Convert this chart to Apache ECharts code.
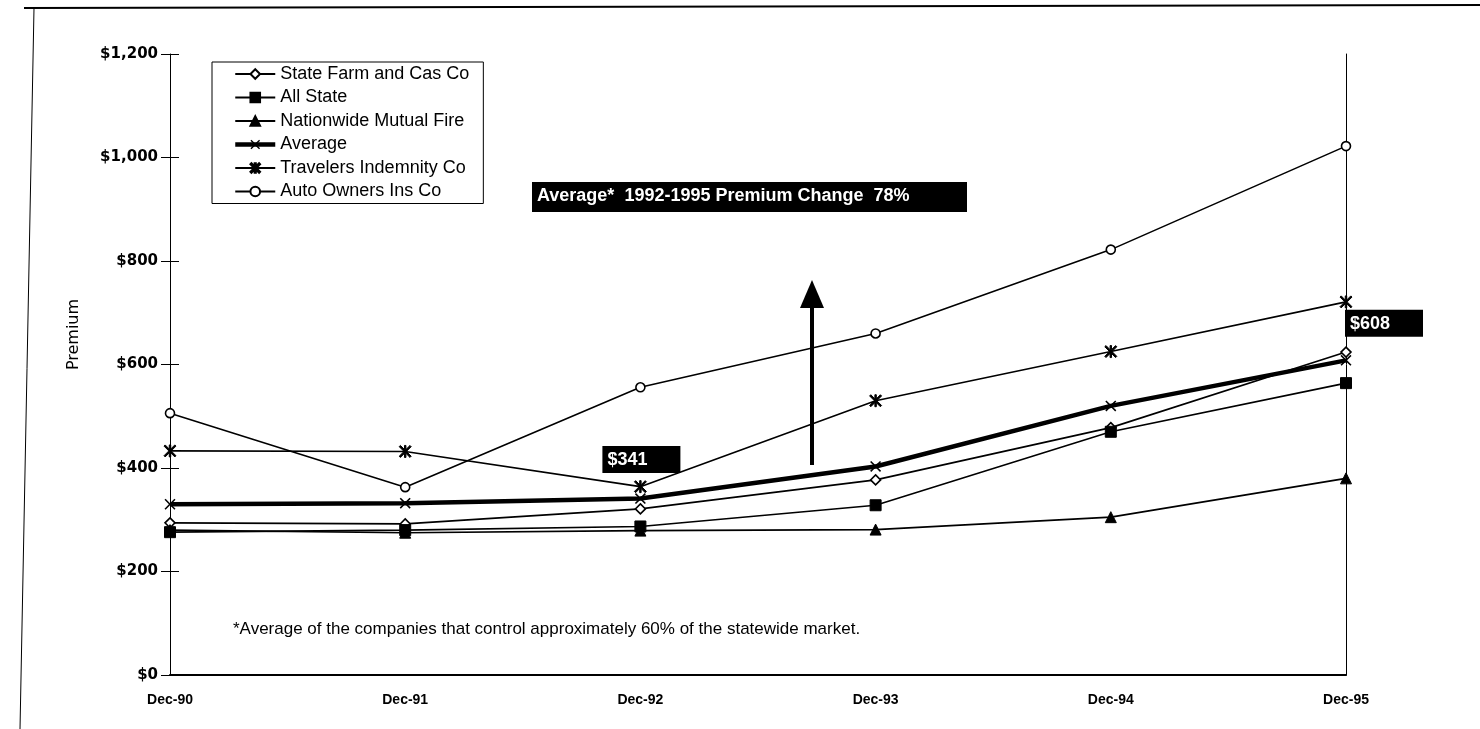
<!DOCTYPE html>
<html>
<head>
<meta charset="utf-8">
<script src="https://cdn.jsdelivr.net/npm/echarts@6/dist/echarts.min.js"></script>
<style>
  html, body { margin: 0; padding: 0; background: #fff; }
  #chart { width: 1480px; height: 729px; }
</style>
</head>
<body>
<div id="chart"></div>
<script>
// categories and series values
const categories = ['Dec-90', 'Dec-91', 'Dec-92', 'Dec-93', 'Dec-94', 'Dec-95']
const stateFarm = [294, 292, 321, 377, 478, 624]
const allState = [276, 280, 287, 328, 470, 564]
const nationwide = [280, 275, 279, 281, 305, 380]
const average = [330, 332, 341, 403, 520, 608]
const travelers = [433, 432, 364, 530, 625, 721]
const autoOwners = [506, 363, 556, 660, 822, 1022]
const yTicks = [0, 200, 400, 600, 800, 1000, 1200]

// marker shapes
const xMark = 'path://M0,1L1,0L5,4L9,0L10,1L6,5L10,9L9,10L5,6L1,10L0,9L4,5Z'
const starMark = 'path://M0,1L1,0L4.4,3.4L4.4,0L5.6,0L5.6,3.4L9,0L10,1L6,5L10,9L9,10L5.6,6.6L5.6,10L4.4,10L4.4,6.6L1,10L0,9L4,5Z'

const chart = echarts.init(document.getElementById('chart'))

const money = v => '$' + v.toLocaleString('en-US')

const boxLabel = (text, offset) => ({
  show: true,
  position: 'top',
  offset: offset,
  formatter: text,
  color: '#fff',
  backgroundColor: '#000',
  fontFamily: 'Liberation Sans Narrow, Liberation Sans, Arial',
  fontWeight: 'bold',
  fontSize: 18,
  width: 68,
  align: 'left',
  padding: [5, 5, 4, 5]
})

const line = (name, data, symbol, opts) => Object.assign({
  name: name,
  type: 'line',
  data: data,
  symbol: symbol,
  symbolSize: 9,
  lineStyle: {color: '#000', width: 1.6},
  itemStyle: {color: '#000', borderColor: '#000', borderWidth: 1},
  z: 3
}, opts || {})

chart.setOption({
  animation: false,
  textStyle: {fontFamily: 'Liberation Sans, Arial, sans-serif', color: '#000'},
  grid: {left: 170, right: 134, top: 54, bottom: 54},
  legend: {
    orient: 'vertical',
    left: 212,
    top: 62,
    borderColor: '#000',
    borderWidth: 1,
    padding: [2, 14, 2, 21],
    itemWidth: 40,
    itemHeight: 12,
    itemGap: 3.5,
    textStyle: {fontSize: 18, lineHeight: 20, color: '#000'},
    data: [
      'State Farm and Cas Co',
      'All State',
      'Nationwide Mutual Fire',
      {name: 'Average', lineStyle: {width: 4.5}},
      'Travelers Indemnity Co',
      'Auto Owners Ins Co'
    ]
  },
  xAxis: {
    type: 'category',
    data: categories,
    boundaryGap: false,
    axisLine: {lineStyle: {color: '#000', width: 2}},
    axisTick: {show: false},
    axisLabel: {
      margin: 18,
      fontFamily: 'Liberation Sans Narrow, Liberation Sans, Arial',
      fontWeight: 'bold',
      fontSize: 14,
      color: '#000'
    }
  },
  yAxis: [{
    type: 'value',
    min: 0,
    max: yTicks[yTicks.length - 1],
    interval: yTicks[1] - yTicks[0],
    name: 'Premium',
    nameLocation: 'middle',
    nameGap: 88,
    nameTextStyle: {fontSize: 16, fontFamily: 'DejaVu Sans, Liberation Sans', color: '#000', padding: [0, 0, 0, 60]},
    axisLine: {show: true, lineStyle: {color: '#000', width: 1}},
    axisTick: {show: true, length: 9, lineStyle: {color: '#000'}},
    axisLabel: {
      margin: 12,
      fontFamily: 'DejaVu Sans, Liberation Sans',
      fontWeight: 'bold',
      fontSize: 15,
      color: '#000',
      formatter: money
    },
    splitLine: {show: false}
  }, {
    // inner half of the crossing ticks
    type: 'value',
    position: 'left',
    min: 0,
    max: yTicks[yTicks.length - 1],
    interval: yTicks[1] - yTicks[0],
    axisLine: {show: false},
    axisTick: {show: true, inside: true, length: 9, lineStyle: {color: '#000'}},
    axisLabel: {show: false},
    splitLine: {show: false}
  }, {
    // right frame line
    type: 'value',
    position: 'right',
    min: 0,
    max: yTicks[yTicks.length - 1],
    axisLine: {show: true, lineStyle: {color: '#000', width: 1}},
    axisTick: {show: false},
    axisLabel: {show: false},
    splitLine: {show: false}
  }],
  series: [
    line('State Farm and Cas Co', stateFarm, 'diamond', {
      symbolSize: 10,
      itemStyle: {color: '#fff', borderColor: '#000', borderWidth: 1.6}
    }),
    line('All State', allState, 'rect', {symbolSize: 11}),
    line('Nationwide Mutual Fire', nationwide, 'triangle', {symbolSize: 11}),
    line('Average', average.map((v, i) => {
      if (i === 2) return {value: v, label: boxLabel(money(v), [-38, -15])}
      if (i === 5) return {value: v, label: boxLabel(money(v), [-1, -13])}
      return v
    }), xMark, {
      symbolSize: 11,
      lineStyle: {color: '#000', width: 4.5},
      itemStyle: {color: '#000'},
      z: 4
    }),
    line('Travelers Indemnity Co', travelers, starMark, {symbolSize: 12}),
    line('Auto Owners Ins Co', autoOwners, 'circle', {
      symbolSize: 9,
      itemStyle: {color: '#fff', borderColor: '#000', borderWidth: 1.6}
    })
  ],
  graphic: [
    // scanned page frame
    {type: 'line', shape: {x1: 24, y1: 8, x2: 1480, y2: 5}, style: {stroke: '#000', lineWidth: 2}},
    {type: 'line', shape: {x1: 34, y1: 8, x2: 20, y2: 729}, style: {stroke: '#000', lineWidth: 1}},
    // headline box
    {
      type: 'rect',
      shape: {x: 532, y: 182, width: 435, height: 30},
      style: {fill: '#000'}
    },
    {
      type: 'text',
      x: 537, y: 187,
      style: {
        text: 'Average*  1992-1995 Premium Change  78%',
        fill: '#fff',
        font: 'bold 18px "Liberation Sans Narrow", "Liberation Sans", Arial'
      }
    },
    // arrow
    {type: 'line', shape: {x1: 812, y1: 465, x2: 812, y2: 305}, style: {stroke: '#000', lineWidth: 4}},
    {type: 'polygon', shape: {points: [[812, 280], [800, 308], [824, 308]]}, style: {fill: '#000'}},
    // footnote
    {
      type: 'text',
      x: 233, y: 621,
      style: {
        text: '*Average of the companies that control approximately 60% of the statewide market.',
        fill: '#000',
        font: '17px "Liberation Sans", Arial'
      }
    }
  ]
})
</script>
</body>
</html>
